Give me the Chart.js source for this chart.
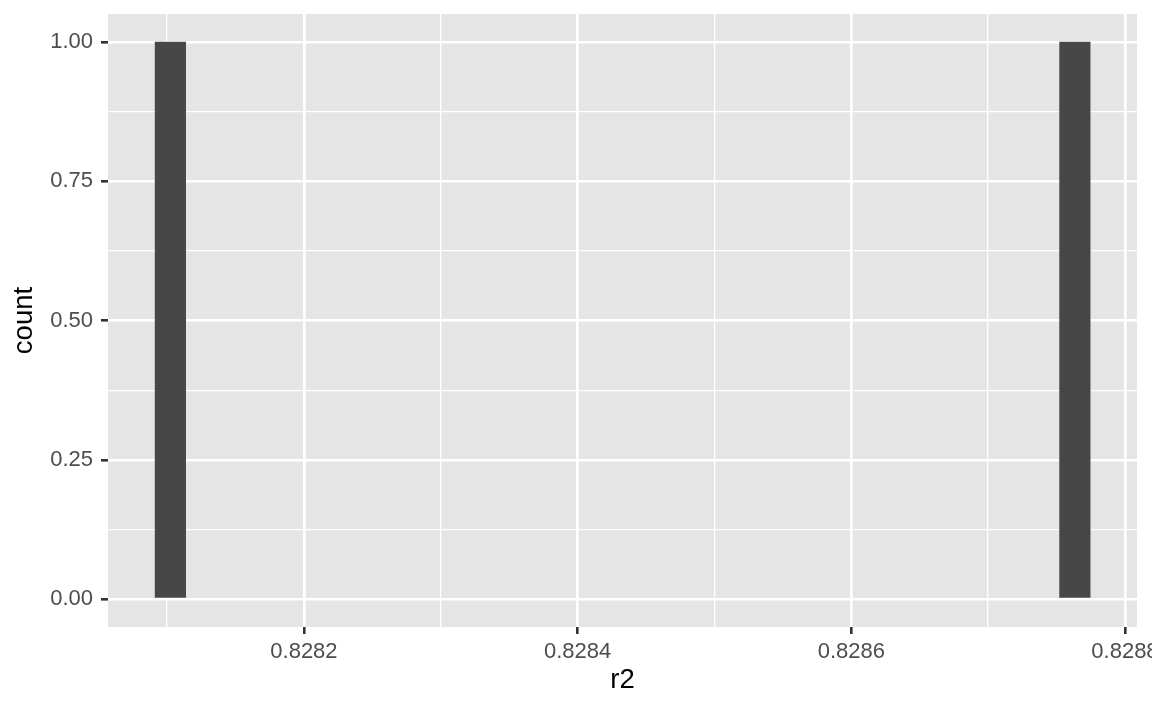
<!DOCTYPE html>
<html>
<head>
<meta charset="utf-8">
<script src="https://cdn.jsdelivr.net/npm/chart.js@4.4.0/dist/chart.umd.min.js"></script>
<style>
  body { margin: 0; background: #fff; }
  canvas { display: block; }
</style>
</head>
<body>
<canvas id="hist" width="1152" height="711"></canvas>
<script>
// histogram of r2, 30 bins, first and last bin centre
var binFirst = 0.8281024;
var binLast = 0.8287634;
var counts = [1, 0, 0, 0, 0, 0, 0, 0, 0, 0,
              0, 0, 0, 0, 0, 0, 0, 0, 0, 0,
              0, 0, 0, 0, 0, 0, 0, 0, 0, 1];
var xMajor = [0.8282, 0.8284, 0.8286, 0.8288];
var xLabels = ['0.8282', '0.8284', '0.8286', '0.8288'];
var yMajor = [0, 0.25, 0.5, 0.75, 1];
var yLabels = ['0.00', '0.25', '0.50', '0.75', '1.00'];
var xRange = [0.8280568, 0.8288088];
var yRange = [-0.05, 1.05];

var binWidth = (binLast - binFirst) / (counts.length - 1);
var points = counts.map(function (c, i) {
    return { x: binFirst + i * binWidth, y: c };
});

// major ticks plus the minor ones between them
function withMinor(major, lo, hi) {
    var step = major[1] - major[0];
    var out = [];
    for (var i = -1; i < major.length; i++) {
        var m = (i < 0 ? major[0] - step : major[i]);
        if (i >= 0) out.push(m);
        var mid = m + step / 2;
        if (mid > lo && mid < hi) out.push(mid);
    }
    return out.sort(function (a, b) { return a - b; });
}
function majorIndex(list, v) {
    for (var i = 0; i < list.length; i++) {
        if (Math.abs(list[i] - v) < 1e-9) return i;
    }
    return -1;
}
function isMajor(list, c) {
    return !!(c && c.tick && majorIndex(list, c.tick.value) >= 0);
}

var font = "'Liberation Sans', Arial, Helvetica, sans-serif";

var panelBg = {
    id: 'panelBg',
    beforeDraw: function (chart) {
        var a = chart.chartArea;
        var c = chart.ctx;
        c.save();
        c.fillStyle = '#E5E5E5';
        c.fillRect(a.left, a.top, a.right - a.left, a.bottom - a.top);
        c.restore();
    }
};

const ctx = document.getElementById('hist');
const hist = new Chart(ctx, {
    type: 'bar',
    data: {
        datasets: [{
            label: 'count',
            data: points,
            backgroundColor: '#474747',
            borderWidth: 0,
            inflateAmount: 0,
            barPercentage: 1,
            categoryPercentage: 1
        }]
    },
    plugins: [panelBg],
    options: {
        responsive: false,
        animation: false,
        devicePixelRatio: 1,
        layout: { padding: { top: 14, right: 15, left: 0, bottom: 0 } },
        plugins: {
            legend: { display: false },
            tooltip: { enabled: false }
        },
        scales: {
            x: {
                type: 'linear',
                min: xRange[0],
                max: xRange[1],
                offset: false,
                border: { display: false },
                afterBuildTicks: function (scale) {
                    scale.ticks = withMinor(xMajor, xRange[0], xRange[1]).map(function (v) { return { value: v }; });
                },
                afterFit: function (scale) {
                    scale.height = 84;
                    scale.paddingLeft = 0;
                    scale.paddingRight = 0;
                },
                grid: {
                    offset: false,
                    color: '#FFFFFF',
                    lineWidth: function (c) { return isMajor(xMajor, c) ? 2.6 : 1.3; },
                    tickLength: 7,
                    tickWidth: 2.6,
                    tickColor: function (c) { return isMajor(xMajor, c) ? '#333333' : 'rgba(0,0,0,0)'; }
                },
                ticks: {
                    autoSkip: false,
                    maxRotation: 0,
                    padding: 5,
                    color: '#4D4D4D',
                    font: { family: font, size: 22 },
                    callback: function (v) {
                        var i = majorIndex(xMajor, v);
                        return i >= 0 ? xLabels[i] : '';
                    }
                },
                title: {
                    display: true,
                    text: 'r2',
                    color: '#000000',
                    font: { family: font, size: 27.5 },
                    padding: { top: 0, bottom: 14 }
                }
            },
            y: {
                type: 'linear',
                min: yRange[0],
                max: yRange[1],
                border: { display: false },
                afterBuildTicks: function (scale) {
                    scale.ticks = withMinor(yMajor, yRange[0], yRange[1]).map(function (v) { return { value: v }; });
                },
                afterFit: function (scale) {
                    scale.width = 108;
                    scale.paddingTop = 0;
                    scale.paddingBottom = 0;
                },
                grid: {
                    color: '#FFFFFF',
                    lineWidth: function (c) { return isMajor(yMajor, c) ? 2.6 : 1.3; },
                    tickLength: 7,
                    tickWidth: 2.6,
                    tickColor: function (c) { return isMajor(yMajor, c) ? '#333333' : 'rgba(0,0,0,0)'; }
                },
                ticks: {
                    autoSkip: false,
                    padding: 8,
                    color: '#4D4D4D',
                    font: { family: font, size: 22 },
                    callback: function (v) {
                        var i = majorIndex(yMajor, v);
                        return i >= 0 ? yLabels[i] : '';
                    }
                },
                title: {
                    display: true,
                    text: 'count',
                    color: '#000000',
                    font: { family: font, size: 27.5 },
                    padding: { top: 8, bottom: 0 }
                }
            }
        }
    }
});
</script>
</body>
</html>
